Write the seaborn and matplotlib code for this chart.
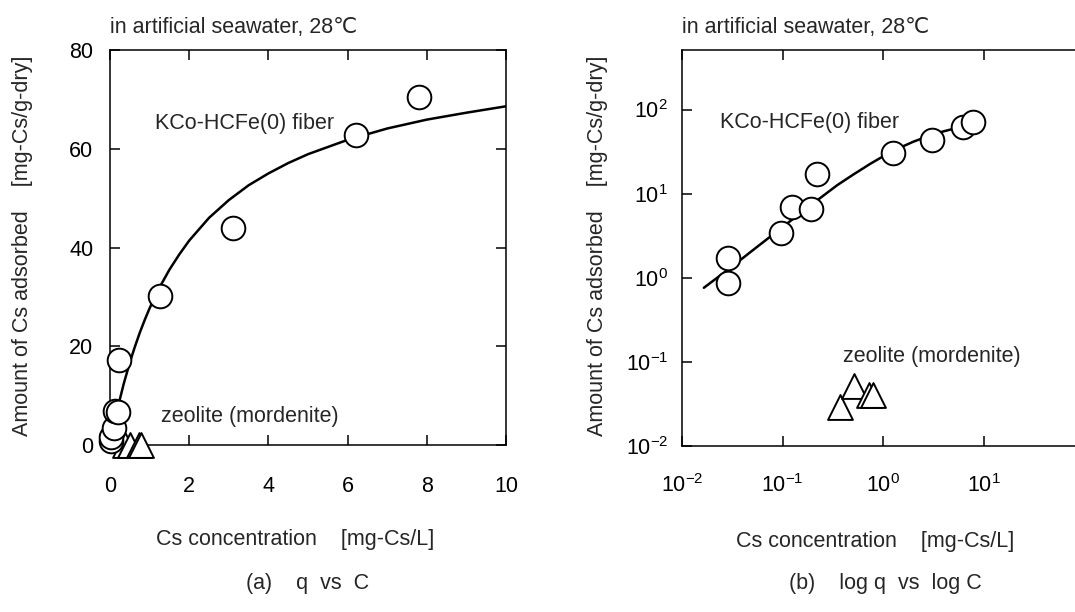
import matplotlib
matplotlib.use("Agg")
import matplotlib.pyplot as plt
import matplotlib.ticker as mticker
import seaborn as sns

sns.set_theme(style="ticks")
plt.rcParams['font.family'] = ['Liberation Sans', 'DejaVu Sans']
plt.rcParams['mathtext.fontset'] = 'custom'
plt.rcParams['mathtext.rm'] = 'Liberation Sans'
plt.rcParams['mathtext.it'] = 'Liberation Sans'
plt.rcParams['axes.unicode_minus'] = False

# --- data ---
# KCo-HCFe(0) fiber, equilibrium points
fiber_c = [0.029, 0.029, 0.097, 0.125, 0.192, 0.219, 1.27, 3.1, 6.2, 7.8]
fiber_q = [0.86, 1.71, 3.4, 6.9, 6.6, 17.3, 30.2, 44.0, 62.8, 70.5]

# zeolite (mordenite)
zeo_c = [0.37, 0.51, 0.72, 0.79]
zeo_q = [0.029, 0.052, 0.040, 0.040]

# fitted isotherm as drawn in panel (a)
curve_a_c = [0.05, 0.1, 0.15, 0.25, 0.35, 0.5, 0.62, 0.75, 0.87, 1.0, 1.25, 1.5, 1.75, 2.0,
             2.5, 3.0, 3.5, 4.0, 4.5, 5.0, 6.0, 7.0, 8.0, 9.0, 10.0]
curve_a_q = [2.0, 4.0, 5.9, 9.3, 12.5, 16.7, 19.7, 22.7, 25.2, 27.7, 31.9, 35.5, 38.6, 41.4,
             46.0, 49.6, 52.6, 55.0, 57.1, 58.9, 61.8, 64.1, 65.9, 67.3, 68.6]

# fitted isotherm as drawn in panel (b)
curve_b_c = [0.0165, 0.03, 0.05, 0.1, 0.2, 0.35, 0.5, 0.75, 1.0, 1.5, 2.0, 3.0, 4.0, 5.0, 6.3]
curve_b_q = [0.76, 1.3, 2.1, 4.0, 7.6, 12.6, 16.7, 22.7, 27.7, 35.5, 41.4, 49.6, 55.0, 58.9, 62.5]

title_txt = "in artificial seawater, 28℃"
ylabel_txt = "Amount of Cs adsorbed    [mg-Cs/g-dry]"
xlabel_txt = "Cs concentration    [mg-Cs/L]"

FS = 15.5
circ = dict(marker='o', s=290, facecolor='white', edgecolor='black', linewidth=1.4, zorder=3)
tri = dict(marker='^', s=320, facecolor='white', edgecolor='black', linewidth=1.4, zorder=3)

fig = plt.figure(figsize=(10.75, 6.12), dpi=100)
ax1 = fig.add_axes([110/1075, 1 - 445/612, 396/1075, 395/612])
ax2 = fig.add_axes([682/1075, 1 - 446/612, 402/1075, 396/612])

def style_axes(ax):
    for sp in ax.spines.values():
        sp.set_visible(True)
        sp.set_linewidth(1.1)
        sp.set_color('black')
    ax.tick_params(which='major', direction='in', length=7, width=1.1,
                   top=True, right=True, labelsize=FS, colors='black')
    ax.tick_params(which='minor', length=0)
    ax.grid(False)

# ---------- (a) q vs C ----------
sns.lineplot(x=curve_a_c, y=curve_a_q, ax=ax1, color='black', lw=1.8,
             sort=False, estimator=None, zorder=2)
sns.scatterplot(x=zeo_c, y=zeo_q, ax=ax1, clip_on=False, **tri)
sns.scatterplot(x=fiber_c, y=fiber_q, ax=ax1, clip_on=False, **circ)
ax1.set_xlim(0, 10)
ax1.set_ylim(0, 80)
ax1.set_xticks([0, 2, 4, 6, 8, 10])
ax1.set_yticks([0, 20, 40, 60, 80])
style_axes(ax1)
ax1.tick_params(axis='x', pad=22)
ax1.tick_params(axis='y', pad=12)
ax1.text(1.14, 65.2, "KCo-HCFe(0) fiber", fontsize=FS, va='center', ha='left')
ax1.text(1.29, 5.7, "zeolite (mordenite)", fontsize=FS, va='center', ha='left')

# ---------- (b) log q vs log C ----------
sns.lineplot(x=curve_b_c, y=curve_b_q, ax=ax2, color='black', lw=1.8,
             sort=False, estimator=None, zorder=2)
sns.scatterplot(x=zeo_c, y=zeo_q, ax=ax2, **tri)
sns.scatterplot(x=fiber_c, y=fiber_q, ax=ax2, **circ)
ax2.set_xscale('log')
ax2.set_yscale('log')
ax2.set_xlim(1e-2, 1e2)
ax2.set_ylim(1e-2, 510)
ax2.xaxis.set_major_locator(mticker.FixedLocator([1e-2, 1e-1, 1e0, 1e1]))
ax2.yaxis.set_major_locator(mticker.FixedLocator([1e-2, 1e-1, 1e0, 1e1, 1e2]))
ax2.xaxis.set_minor_locator(mticker.NullLocator())
ax2.yaxis.set_minor_locator(mticker.NullLocator())
style_axes(ax2)
ax2.tick_params(right=False)
ax2.tick_params(axis='x', pad=20)
ax2.tick_params(axis='y', pad=10)
ax2.text(0.024, 70, "KCo-HCFe(0) fiber", fontsize=FS, va='center', ha='left')
ax2.text(0.40, 0.115, "zeolite (mordenite)", fontsize=FS, va='center', ha='left')

for ax, xl_x, yl_x in [(ax1, 0.467, -0.222), (ax2, 0.48, -0.209)]:
    ax.set_title(title_txt, loc='left', fontsize=FS, pad=12)
    ax.set_xlabel(xlabel_txt, fontsize=FS)
    ax.set_ylabel(ylabel_txt, fontsize=FS)
    ax.xaxis.label.set_va('center')
    ax.yaxis.label.set_va('center')
    ax.xaxis.set_label_coords(xl_x, -0.24)
    ax.yaxis.set_label_coords(yl_x, 0.505)

fig.text(308/1075, 1 - 583/612, "(a)    q  vs  C", fontsize=FS, ha='center', va='center')
fig.text(885/1075, 1 - 583/612, "(b)    log q  vs  log C", fontsize=FS, ha='center', va='center')

fig.savefig("out.png", dpi=100, facecolor='white')
